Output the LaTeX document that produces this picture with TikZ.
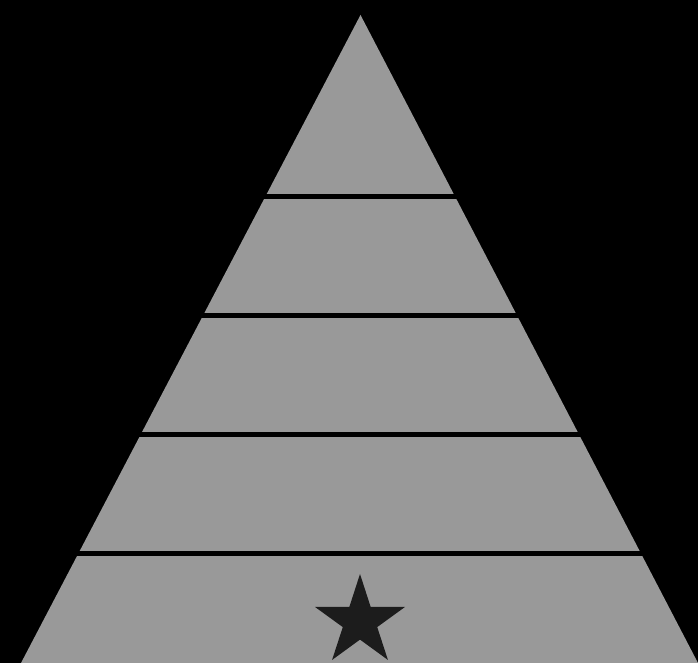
\documentclass[tikz,border=0pt]{standalone}
\usetikzlibrary{shapes.geometric}
\definecolor{pyrgrey}{HTML}{999999}
\definecolor{stardark}{HTML}{1C1C1C}
\tikzset{
  sep/.style={draw=black, line width=5pt},
  tier/.style={fill=pyrgrey}
}
\begin{document}
\begin{tikzpicture}[x=1pt,y=1pt]
\fill[black] (0,0) rectangle (698,663);
\useasboundingbox (0,0) rectangle (698,663);
\coordinate (apex) at (360.5,648);
\coordinate (bl) at (21,0);
\coordinate (br) at (698,0);
\path[tier] (apex) -- (br) -- (bl) -- cycle;
\foreach \yy in {466.3,347.2,228.2,109.2}{
  \draw[sep] (0,\yy) -- (698,\yy);
}
\fill[stardark] (360,89)
  \foreach \k in {0,...,4}{
    -- ({360+18.1*cos(126+72*\k)},{41.5+18.1*sin(126+72*\k)})
    -- ({360+47.5*cos(162+72*\k)},{41.5+47.5*sin(162+72*\k)})
  } -- cycle;
\end{tikzpicture}
\end{document}
